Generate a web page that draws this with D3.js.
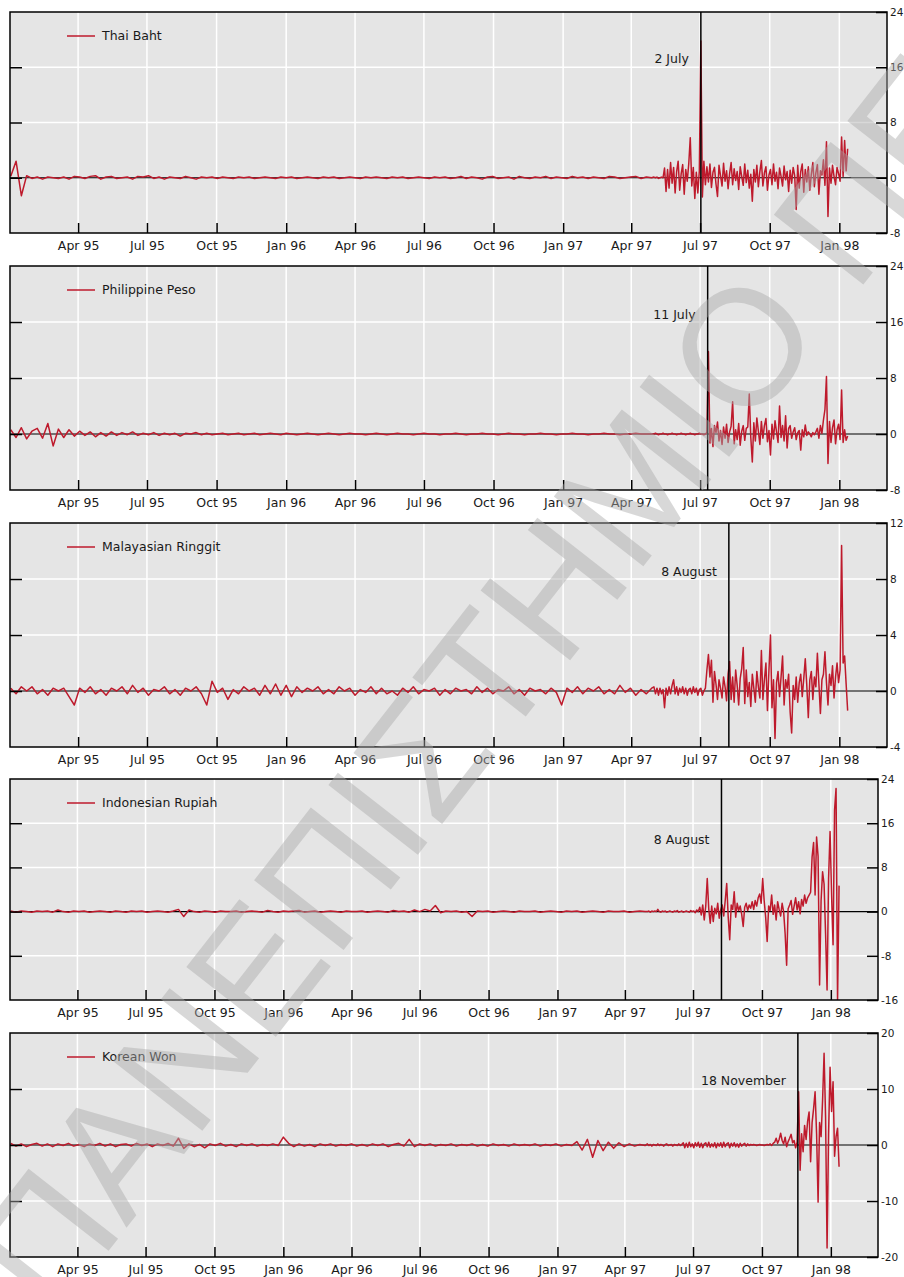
<!DOCTYPE html>
<html>
<head>
<meta charset="utf-8">
<script src="https://cdn.jsdelivr.net/npm/d3@7"></script>
<style>
  body { margin: 0; background: #ffffff; }
  svg text { font-family: "DejaVu Sans", sans-serif; font-size: 12.5px; fill: #1a1a1a; }
  svg .right-axis text { font-size: 10.5px; }
</style>
</head>
<body>
<div id="chart"></div>
<script>
//Panel names, the crisis date marked in each panel and the y scale of each one
var currencies = ["Thai Baht", "Philippine Peso", "Malayasian Ringgit", "Indonesian Rupiah", "Korean Won"]
var eventLabels = ["2 July", "11 July", "8 August", "8 August", "18 November"]
var eventDates = ["1997-07-02", "1997-07-11", "1997-08-08", "1997-08-08", "1997-11-18"]
var yDomains = [[-8, 24], [-8, 24], [-4, 12], [-16, 24], [-20, 20]]
var yStep = [8, 8, 4, 8, 10]
var quarterTicks = ["1995-04-01", "1995-07-01", "1995-10-01", "1996-01-01", "1996-04-01", "1996-07-01",
                    "1996-10-01", "1997-01-01", "1997-04-01", "1997-07-01", "1997-10-01", "1998-01-01"]

//Readings: one a week from 2 Jan 1995, then one every second day from 1 May 1997
var weeklyStart = "1995-01-02"
var dailyStart = "1997-05-01"

var thaiWeekly = [0.2, 2.4, -2.6, 0.3, -0.1, 0.1, -0.2, 0.1, 0.0, -0.1,
  0.1, -0.2, 0.2, 0.1, -0.1, 0.2, 0.3, -0.2, 0.1, 0.2,
  -0.1, 0.0, 0.1, -0.2, 0.2, 0.1, 0.3, -0.1, 0.1, -0.2,
  0.1, 0.0, -0.1, 0.2, 0.0, -0.2, 0.1, 0.0, 0.1, -0.1,
  0.1, 0.0, -0.1, 0.1, 0.0, 0.1, -0.1, 0.0, 0.1, 0.0,
  -0.1, 0.1, 0.0, 0.1, -0.1, 0.0, 0.1, 0.0, -0.1, 0.1,
  0.0, 0.1, -0.1, 0.0, 0.1, 0.0, -0.1, 0.1, 0.0, 0.1,
  0.0, -0.1, 0.1, 0.0, 0.1, -0.1, 0.0, 0.1, 0.0, -0.1,
  0.1, 0.0, 0.1, -0.1, 0.0, 0.2, -0.1, 0.1, 0.0, -0.2,
  0.1, 0.2, -0.1, 0.0, 0.1, -0.2, 0.2, 0.0, -0.1, 0.1,
  0.0, 0.2, -0.1, 0.1, 0.0, -0.1, 0.2, 0.0, 0.1, -0.1,
  0.1, 0.0, -0.1, 0.2, 0.1, -0.1, 0.0, 0.1, 0.2, -0.1,
  0.1, 0.0]
var thaiDaily = [0.1, 0.0, 0.1, -0.1, 0.0, 0.1, 0.0,
  1.4, -2.0, 1.2, -1.5, 2.2, -0.8, 1.5, -2.2, 0.9,
  2.4, -1.8, 0.6, 1.9, -2.4, 1.2, -0.5, 2.0,
  5.8, -1.2, 1.5, -3.0, 0.8, -2.2, 1.0,
  19.8,
  -2.8, 2.4, -1.0, 1.6, -0.6, 2.0, -1.4, 0.8, 1.5, -0.9, -2.7,
  1.8, 0.3, -1.2, 2.1, -0.5, 1.0, -1.6, 0.6, 2.2, -1.0, 1.3, -0.4, 0.9, -1.7, 1.6, 0.2, -1.1, 2.0, -0.7, 1.1, -1.5, 0.5,
  -3.4, 1.2, -0.6, 1.8, -1.3, 0.9, 2.5,
  -1.2, 0.7, 1.6, -1.8, 0.4, 1.2, -1.0, 2.0, -0.5, 0.8, -1.6, 1.4, 0.2, -1.2, 1.7, -0.3, 0.9, -2.0, 1.1, -0.8, 1.5, 0.3,
  -4.6,
  1.8, -1.5, 0.9, 2.0, -2.1, 1.2, -0.6, 1.6, -1.8, 0.5, 2.2, -1.3, 0.7, 1.9, -2.4, 1.0, 0.4, 2.6, -1.1,
  5.2, -5.6,
  1.4, -0.8, 1.8, 0.2, -1.0, 1.5, 0.6, -0.5,
  5.9, 0.2, 5.4, 1.0, 4.2]

var pesoWeekly = [0.6, -0.5, 0.9, -0.7, 0.4, 0.8, -0.6, 1.5, -1.7, 0.7,
  -0.5, 0.6, -0.3, 0.4, -0.2, 0.3, -0.4, 0.2, -0.3, 0.3,
  -0.2, 0.2, -0.1, 0.3, -0.2, 0.1, -0.1, 0.2, -0.2, 0.1,
  -0.1, 0.1, -0.3, 0.1, 0.0, 0.2, -0.1, 0.1, -0.1, 0.0,
  0.1, -0.1, 0.0, 0.1, -0.1, 0.0, 0.1, -0.1, 0.0, 0.1,
  0.0, -0.1, 0.1, 0.0, -0.1, 0.0, 0.1, 0.0, -0.1, 0.0,
  0.1, 0.0, -0.1, 0.0, 0.1, 0.0, 0.0, -0.1, 0.0, 0.1,
  0.0, -0.1, 0.0, 0.1, 0.0, 0.0, -0.1, 0.0, 0.1, 0.0,
  0.0, -0.1, 0.0, 0.0, 0.1, 0.0, -0.1, 0.0, 0.0, 0.1,
  0.0, 0.0, -0.1, 0.0, 0.1, 0.0, 0.0, -0.1, 0.0, 0.0,
  0.1, 0.0, 0.0, -0.1, 0.0, 0.0, 0.1, 0.0, 0.0, -0.1,
  0.0, 0.0, 0.1, 0.0, 0.0, -0.1, 0.0, 0.0, 0.1, 0.0,
  0.0, 0.0]
var pesoDaily = [0.0, 0.1, 0.0, -0.1, 0.0, 0.0, 0.1, 0.0, 0.0, -0.1,
  0.0, 0.0, 0.1, 0.0, 0.0, -0.1, 0.0, 0.0, 0.1, 0.0,
  0.0, -0.1, 0.0, 0.0, 0.1, 0.0, 0.0, -0.1, 0.0, 0.0,
  0.1, 0.0, 0.0, -0.1, 0.0,
  0.2, 11.8,
  -1.3, 0.8, -1.8, 1.2, 0.2, 1.7, -1.0, 0.5, -1.5, 1.0, -0.6, 1.4, -1.2, 0.3, 1.1,
  4.6,
  -1.4, 0.6, -0.8, 1.5, -1.6, 0.4, 1.2, -0.9, 0.8,
  1.0, 5.7, -0.5, -4.0,
  1.6, -1.0, 2.3, 0.4, -1.5, 1.8, -0.6, 1.2, 2.2, -1.1, 0.5,
  -3.0, 1.4, -0.7, 1.9, 0.3, -1.2,
  4.0, -0.5, 1.2, -1.0, 2.6, -2.0,
  0.8, 1.2, -0.6, 0.3, 0.9, -0.8, 0.2, 0.5,
  -2.3, 0.6, -0.4, 1.3,
  -0.2, 0.3, 0.0, -0.4, 0.2, -0.1, 0.3, 0.8, -0.6, 1.2, 0.1, 2.0,
  3.5, 8.2, -4.2,
  1.8, -1.2, 0.9, 2.0, -1.4, 0.6, 1.4, -0.8,
  6.3, -1.2, 0.6, -0.9, -0.3]

var ringgitWeekly = [0.2, -0.2, 0.3, 0.0, 0.3, -0.2, 0.1, -0.3, 0.2, 0.0,
  0.2, -0.4, -1.0, 0.2, -0.1, 0.3, -0.2, 0.1, -0.3, 0.2,
  0.0, 0.3, -0.2, 0.4, -0.1, 0.2, -0.3, 0.1, 0.0, 0.3,
  -0.2, 0.1, -0.3, 0.2, 0.0, 0.3, -0.2, -1.0, 0.7, -0.1,
  0.2, -0.6, 0.1, -0.2, 0.3, 0.0, 0.2, -0.3, 0.4, -0.2,
  0.5, -0.3, 0.4, -0.4, 0.3, -0.1, 0.2, 0.0, 0.3, -0.2,
  0.1, -0.2, 0.3, 0.0, 0.2, -0.3, 0.1, -0.1, 0.3, -0.2,
  0.2, -0.2, 0.0, -0.3, 0.2, -0.1, 0.3, -0.2, 0.1, 0.0,
  0.2, -0.3, 0.1, -0.2, 0.2, 0.0, 0.1, -0.2, 0.3, -0.1,
  0.2, -0.2, 0.1, 0.0, 0.3, -0.2, 0.1, -0.3, 0.2, 0.0,
  0.1, -0.2, 0.2, -0.1, -1.0, 0.2, -0.1, 0.3, -0.2, 0.2,
  0.0, 0.3, -0.2, 0.1, -0.2, 0.4, -0.1, 0.2, -0.3, 0.1,
  -0.2, 0.2]
var ringgitDaily = [0.3, -0.2, 0.2, -0.3, 0.2, -0.2, 0.1,
  -1.2, 0.2, -0.3, 0.3, -0.2, 0.4, 0.8,
  -0.2, 0.3, -0.3, 0.2, -0.1, 0.3, -0.2, 0.2, -0.3, 0.1, 0.2, -0.2, 0.3, -0.1, 0.2, -0.3,
  0.1, 0.2, -0.3, 0.0, 0.2,
  1.5, 2.6, 1.0, 2.2, -0.8, 1.4, 0.5,
  -0.6, 0.8, 0.2, -0.5, 1.0, 0.3, -0.7,
  1.2, 2.1, -0.6, 1.0, -0.8, 1.5, 0.4, -1.0, 0.9, 1.6,
  3.1,
  -0.9, 1.5, -0.4, 0.6, -1.1, 1.2, 0.2, -0.8, 1.4, 0.3, -0.5,
  2.9, -0.6, 0.8, 2.0, -1.4, 1.5, 4.0, -1.2, 0.8, -3.4,
  0.6, 1.4, -0.4, 1.0, 2.5,
  -1.0, 0.8, 0.2, 1.2, -1.5, -3.0,
  0.4, -0.6, 1.0, -0.8, 0.6, 1.2, -0.4, 0.9,
  2.3, 0.4, -1.9,
  0.8, 1.4, -0.6, 1.0, 0.3,
  2.7, 0.5, -1.6, 0.8, 1.2, 2.8, 0.6, -1.0,
  1.2, 0.4, 1.8, -0.5, 1.0, 2.0, 0.6, 1.5,
  10.4, 2.0, 2.5, 0.5, -1.4]

var rupiahWeekly = [0.1, -0.1, 0.1, 0.0, -0.1, 0.1, 0.0, 0.1, -0.1, 0.3,
  0.0, -0.1, 0.1, 0.0, 0.1, -0.1, 0.0, 0.1, 0.0, -0.1,
  0.1, 0.0, -0.1, 0.1, 0.0, 0.1, -0.1, 0.0, 0.1, 0.0,
  -0.1, 0.1, 0.4, -0.9, 0.3, 0.0, -0.1, 0.1, 0.0, -0.1,
  0.1, 0.0, 0.0, 0.1, -0.1, 0.0, 0.1, 0.0, -0.1, 0.2,
  0.0, -0.1, 0.1, 0.0, 0.1, 0.2, -0.1, 0.0, 0.1, -0.1,
  0.0, 0.1, 0.0, -0.1, 0.1, 0.0, 0.0, 0.1, -0.1, 0.0,
  0.1, 0.0, -0.1, 0.2, 0.0, 0.1, -0.1, 0.3, 0.0, 0.4,
  0.1, 1.1, -0.2, 0.1, 0.0, 0.1, -0.1, 0.0, -0.9, 0.1,
  0.0, 0.1, -0.1, 0.0, 0.1, 0.0, -0.1, 0.1, 0.0, 0.0,
  0.1, -0.1, 0.0, 0.1, 0.0, -0.1, 0.1, 0.0, 0.1, -0.1,
  0.0, 0.1, 0.0, -0.1, 0.1, 0.0, 0.0, 0.1, -0.1, 0.0,
  0.1, 0.0]
var rupiahDaily = [0.0, 0.1, -0.1, 0.1, 0.0, 0.1, 0.0, 0.4,
  0.0, -0.1, 0.1, 0.0, 0.1, -0.1, 0.0, 0.1, 0.0, -0.1,
  0.1, 0.0, 0.2, -0.1, 0.0, 0.1, -0.1, 0.0, 0.1, 0.0,
  -0.1, 0.2, 0.0, 0.1, -0.2, 0.3, 0.0,
  0.8, -0.6, 1.2, -1.5, 1.0,
  6.0,
  0.5, -2.1, 1.0, -1.8, 0.6, -0.4, 1.5, -1.2, 0.3,
  1.2, -0.8, 2.0, 5.1, -1.0, -5.1, 1.2, 0.4, 3.6,
  -1.0, 1.5, 0.2, 1.0, -0.5, -2.7,
  0.8, 1.5, 0.2, 1.2, 0.6, 1.8, 0.4, 2.0, 1.0, 2.5, 3.2, 1.5,
  6.0, 2.0, -1.0, -5.4, 1.0, 0.2, 3.0,
  -0.5, 1.2, -1.5, 1.8, 0.4, -0.8, 1.5, 0.0,
  -4.0, -9.7, 0.5, 1.2, 2.0,
  -0.5, 1.0, 2.5, 0.3, 1.8, -0.4, 2.2, 1.0, 3.0, 1.5, 2.5,
  3.0, 3.5, 9.9, 12.5, 3.0, 13.5, 10.0, -13.3, 2.0, 7.2,
  5.0, -4.0, -14.2, 6.0, 14.5, 3.0, -6.0, 18.4, 22.3, -16.0, 4.7]

var wonWeekly = [0.3, -0.2, 0.2, -0.3, 0.1, 0.3, -0.2, 0.2, -0.3, 0.2,
  -0.1, 0.3, -0.2, 0.1, -0.3, 0.2, -0.1, 0.3, -0.2, 0.2,
  -0.3, 0.1, 0.2, -0.2, 0.3, -0.1, 0.2, -0.3, 0.2, -0.1,
  0.3, -0.2, 1.2, -0.6, 0.2, -0.3, 0.1, -0.5, 0.2, -0.1,
  0.3, -0.2, 0.1, -0.3, 0.2, -0.1, 0.2, -0.2, 0.1, -0.1,
  0.2, -0.1, 1.4, 0.3, -0.3, 0.2, -0.2, 0.1, -0.3, 0.2,
  -0.1, 0.2, -0.2, 0.1, -0.1, 0.2, -0.2, 0.1, -0.2, 0.2,
  -0.1, 0.2, -0.3, 0.1, 0.3, -0.2, 1.0, -0.3, 0.2, -0.1,
  0.2, -0.2, 0.1, -0.1, 0.2, -0.2, 0.1, -0.1, 0.2, -0.2,
  0.1, -0.2, 0.2, -0.1, 0.1, -0.2, 0.2, -0.1, 0.1, -0.1,
  0.2, -0.2, 0.1, -0.1, 0.2, -0.2, 0.1, -0.1, 0.6, -0.9,
  1.0, -2.2, 0.8, -1.0, 0.5, -0.6, 0.4, -0.3, 0.2, -0.2,
  0.1, -0.1]
var wonDaily = [0.2, -0.1, 0.1, -0.2, 0.1, 0.0, -0.1, 0.2, -0.1, 0.1,
  0.0, -0.2, 0.1, 0.2, -0.1, 0.0, 0.1, -0.2, 0.1, 0.0,
  -0.1, 0.2, -0.1, 0.1,
  0.4, -0.5, 0.3, -0.4, 0.5, -0.3, 0.2, -0.5, 0.4, -0.2,
  0.5, -0.4, 0.3, -0.5, 0.2, 0.4, -0.3, 0.5, -0.4, 0.2,
  -0.3, 0.4, -0.5, 0.3, -0.2, 0.4, -0.4, 0.5, -0.3, 0.2,
  0.4, -0.5, 0.3, -0.2, 0.4, -0.3, 0.2, -0.4, 0.3, -0.2,
  0.1, 0.3, -0.2, 0.2, -0.1, 0.1,
  0.0, 0.1, 0.0, -0.1, 0.0, 0.1, 0.0, 0.0, -0.1, 0.0,
  0.1, 0.0, 0.2, -0.1, 0.3, 0.5,
  1.2, 0.3, 1.0, 2.1, 0.8, 0.2, 1.4, -0.3, 0.6, 1.2,
  1.9, 0.4, 0.8, -0.5, 0.5,
  9.5, -4.5, 2.0, -1.2, 3.5, 1.0, 4.2, 5.9, -3.0, 4.0,
  6.5, 9.5, 2.0, -10.2, 4.0, 1.5, 8.0, 16.4, 5.0, -18.4,
  2.0, 13.9, 6.0, 11.3, -2.0, 1.5, 3.0, -3.9]

var weeklySeries = [thaiWeekly, pesoWeekly, ringgitWeekly, rupiahWeekly, wonWeekly]
var dailySeries = [thaiDaily, pesoDaily, ringgitDaily, rupiahDaily, wonDaily]

//Page layout of the five panels
var panelTop = [12, 266, 523, 779, 1033]
var panelHeight = [221, 224, 224, 221, 224]
var panelRight = [887, 887, 887, 878, 878]
var panelLeft = 10
var eventTextOffset = [47, 49, 49, 61, 48]
var red = "#be1a2c"

var parseDate = d3.timeParse("%Y-%m-%d")
var xDomain = [parseDate("1995-01-01"), parseDate("1998-03-05")]
var quarters = quarterTicks.map(parseDate)

//Joins the weekly part and the every-second-day part of a series
function buildSeries(weekly, daily) {
  var points = []
  var start1 = parseDate(weeklyStart)
  var start2 = parseDate(dailyStart)
  for (var k = 0; k < weekly.length; k++) {
    points.push({date: d3.timeDay.offset(start1, 7 * k), value: weekly[k]})
  }
  for (var i = 0; i < daily.length; i++) {
    points.push({date: d3.timeDay.offset(start2, 2 * i), value: daily[i]})
  }
  return points
}

var svg = d3.select("#chart")
  .append("svg")
  .attr("width", 904)
  .attr("height", 1277)

currencies.forEach(function(name, n) {
  var top = panelTop[n]
  var bottom = top + panelHeight[n]
  var left = panelLeft
  var right = panelRight[n]
  var data = buildSeries(weeklySeries[n], dailySeries[n])

  var x = d3.scaleTime().domain(xDomain).range([left, right])
  var y = d3.scaleLinear().domain(yDomains[n]).range([bottom, top])

  var yTicks = d3.range(yDomains[n][0], yDomains[n][1] + 0.001, yStep[n])
  var innerTicks = yTicks.filter(function(v) { return v > yDomains[n][0] && v < yDomains[n][1] })

  var g = svg.append("g").attr("class", "panel")

  //grey plot area
  g.append("rect")
    .attr("x", left).attr("y", top)
    .attr("width", right - left).attr("height", bottom - top)
    .attr("fill", "#e5e5e5")

  //white grid lines
  g.selectAll(".vgrid")
    .data(quarters)
    .enter()
    .append("line")
    .attr("x1", function(d) { return x(d) }).attr("x2", function(d) { return x(d) })
    .attr("y1", top).attr("y2", bottom)
    .attr("stroke", "#ffffff").attr("stroke-width", 1.5)

  g.selectAll(".hgrid")
    .data(innerTicks.filter(function(v) { return v !== 0 }))
    .enter()
    .append("line")
    .attr("x1", left).attr("x2", right)
    .attr("y1", function(d) { return y(d) }).attr("y2", function(d) { return y(d) })
    .attr("stroke", "#ffffff").attr("stroke-width", 1.5)

  //zero line
  g.append("line")
    .attr("x1", left).attr("x2", right)
    .attr("y1", y(0)).attr("y2", y(0))
    .attr("stroke", "#000000").attr("stroke-width", 1.2)

  //clip so the spikes stay inside the box
  g.append("clipPath").attr("id", "clip" + n)
    .append("rect")
    .attr("x", left).attr("y", top)
    .attr("width", right - left).attr("height", bottom - top)

  var line = d3.line()
    .x(function(d) { return x(d.date) })
    .y(function(d) { return y(d.value) })

  g.append("path")
    .datum(data)
    .attr("clip-path", "url(#clip" + n + ")")
    .attr("fill", "none")
    .attr("stroke", red)
    .attr("stroke-width", 1.5)
    .attr("stroke-linejoin", "round")
    .attr("d", line)

  //crisis date
  var ex = x(parseDate(eventDates[n]))
  g.append("line")
    .attr("x1", ex).attr("x2", ex)
    .attr("y1", top).attr("y2", bottom)
    .attr("stroke", "#000000").attr("stroke-width", 1.5)

  g.append("text")
    .attr("x", ex - 12)
    .attr("y", top + eventTextOffset[n] + 4)
    .attr("text-anchor", "end")
    .text(eventLabels[n])

  //axes: inward ticks, labels below and on the right
  var xAxis = d3.axisBottom(x)
    .tickValues(quarters)
    .tickSize(-10)
    .tickPadding(8)
    .tickFormat(d3.timeFormat("%b %y"))

  g.append("g")
    .attr("transform", "translate(0," + bottom + ")")
    .call(xAxis)
    .call(function(a) { a.select(".domain").remove() })

  var yAxisRight = d3.axisRight(y)
    .tickValues(yTicks)
    .tickSize(-11)
    .tickPadding(3)
    .tickFormat(function(d) { return String(d) })

  g.append("g")
    .attr("class", "right-axis")
    .attr("transform", "translate(" + right + ",0)")
    .call(yAxisRight)
    .call(function(a) { a.select(".domain").remove() })

  var yAxisLeft = d3.axisLeft(y)
    .tickValues(innerTicks)
    .tickSize(-12)
    .tickFormat("")

  g.append("g")
    .attr("transform", "translate(" + left + ",0)")
    .call(yAxisLeft)
    .call(function(a) { a.select(".domain").remove() })

  g.selectAll(".tick line").attr("stroke-width", 1.5)

  //frame
  g.append("rect")
    .attr("x", left).attr("y", top)
    .attr("width", right - left).attr("height", bottom - top)
    .attr("fill", "none")
    .attr("stroke", "#000000")
    .attr("stroke-width", 1.5)

  //legend
  g.append("line")
    .attr("x1", left + 57).attr("x2", left + 85)
    .attr("y1", top + 24).attr("y2", top + 24)
    .attr("stroke", red).attr("stroke-width", 1.5)

  g.append("text")
    .attr("x", left + 92)
    .attr("y", top + 28)
    .text(name)
})

//watermark across the page
svg.append("text")
  .attr("transform", "translate(53,1322) rotate(-52)")
  .style("font-family", "'Liberation Sans', sans-serif")
  .style("font-size", "165px")
  .style("fill", "#aaaaaa")
  .style("opacity", 0.45)
  .text("ΠΑΝΕΠΙΣΤΗΜΙΟ ΠΕΙΡΑΙΩΣ")
</script>
</body>
</html>
